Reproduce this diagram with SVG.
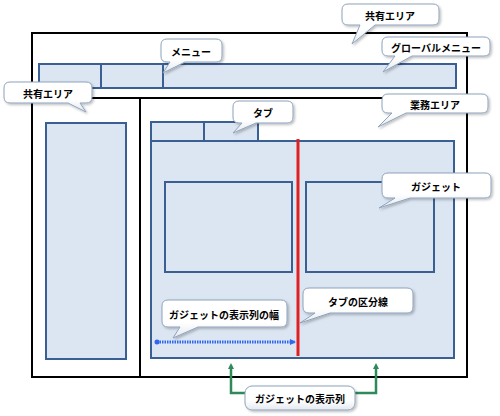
<svg xmlns="http://www.w3.org/2000/svg" width="500" height="416" viewBox="0 0 500 416">
<defs>
<linearGradient id="bg" x1="0" y1="0" x2="0" y2="1">
<stop offset="0" stop-color="#ffffff"/>
<stop offset="0.6" stop-color="#ffffff"/>
<stop offset="1" stop-color="#e4e8ee"/>
</linearGradient>
<filter id="sh" x="-10%" y="-20%" width="130%" height="160%">
<feDropShadow dx="1.5" dy="1.5" stdDeviation="1" flood-color="#000" flood-opacity="0.25"/>
</filter>
<marker id="gArr" markerWidth="6" markerHeight="6" refX="3" refY="3" orient="auto" markerUnits="userSpaceOnUse">
<path d="M0,0 L6,3 L0,6 Z" fill="#2e8b57"/>
</marker>
<marker id="bArr" markerWidth="6" markerHeight="6" refX="5" refY="3" orient="auto" markerUnits="userSpaceOnUse">
<path d="M0,0 L6,3 L0,6 Z" fill="#3366ee"/>
</marker>
<marker id="bDot" markerWidth="6" markerHeight="6" refX="3" refY="3" orient="auto" markerUnits="userSpaceOnUse">
<circle cx="3" cy="3" r="2.5" fill="#3366ee"/>
</marker>
</defs>
<style>
.frame{fill:#ffffff;stroke:#000;stroke-width:2}
.box{fill:#dce6f2;stroke:#3a5f92;stroke-width:2}
.bub{fill:url(#bg);stroke:#8ea3bd;stroke-width:1;filter:url(#sh)}
.lbl{font-family:"Noto Sans CJK JP","Noto Sans",sans-serif;font-size:10px;font-weight:bold;fill:#000;text-anchor:middle;dominant-baseline:central}
.green{fill:none;stroke:#2e8b57;stroke-width:2.5}
</style>

<g id="frame">
<rect class="frame" x="32" y="33" width="435" height="344"/>
<line x1="32" y1="98" x2="467" y2="98" stroke="#000" stroke-width="2"/>
<line x1="140" y1="98" x2="140" y2="377" stroke="#000" stroke-width="2"/>
</g>

<g id="global-menu">
<rect class="box" x="39" y="64" width="417" height="24"/>
<line x1="101" y1="64" x2="101" y2="88" stroke="#3a5f92" stroke-width="2"/>
<line x1="163" y1="64" x2="163" y2="88" stroke="#3a5f92" stroke-width="2"/>
</g>

<g id="side-area">
<rect class="box" x="46" y="123" width="80" height="236"/>
</g>

<g id="tabs">
<rect class="box" x="151" y="122" width="107" height="19"/>
<line x1="204" y1="122" x2="204" y2="141" stroke="#3a5f92" stroke-width="2"/>
</g>

<g id="content">
<rect class="box" x="151" y="141" width="303" height="217"/>
</g>

<g id="gadget-left">
<rect class="box" x="165" y="182" width="127" height="90"/>
</g>
<g id="gadget-right">
<rect class="box" x="306" y="182" width="128" height="90"/>
</g>

<g id="tab-divider">
<line x1="298" y1="139" x2="298" y2="356" stroke="#e02020" stroke-width="3"/>
</g>

<g id="connectors">
<line x1="157" y1="342" x2="295" y2="342" stroke="#3366ee" stroke-width="3" stroke-dasharray="1.5 1" marker-start="url(#bDot)" marker-end="url(#bArr)"/>
<path class="green" d="M245,393 H231 V366" marker-end="url(#gArr)"/>
<path class="green" d="M355,393 H376 V366" marker-end="url(#gArr)"/>
</g>

<g id="callout-shared-top">
<path class="bub" d="M348,4 H433 Q439,4 439,10 V19 Q439,25 433,25 H375 L352,44 L360,25 H348 Q342,25 342,19 V10 Q342,4 348,4 Z"/>
<text class="lbl" x="390" y="15">共有エリア</text>
</g>

<g id="callout-menu">
<path class="bub" d="M167,39 H216 Q222,39 222,45 V56 Q222,62 216,62 H185 L163,73 L170,62 H167 Q161,62 161,56 V45 Q161,39 167,39 Z"/>
<text class="lbl" x="191" y="51">メニュー</text>
</g>

<g id="callout-global-menu">
<path class="bub" d="M388,37 H484 Q490,37 490,43 V50 Q490,56 484,56 H412 L383,72 L395,56 H388 Q382,56 382,50 V43 Q382,37 388,37 Z"/>
<text class="lbl" x="436" y="47">グローバルメニュー</text>
</g>

<g id="callout-shared-left">
<path class="bub" d="M10,82 H86 Q92,82 92,88 V97 Q92,103 86,103 H80 L86,112 L68,103 H10 Q4,103 4,97 V88 Q4,82 10,82 Z"/>
<text class="lbl" x="48" y="93">共有エリア</text>
</g>

<g id="callout-tab">
<path class="bub" d="M239,101 H287 Q293,101 293,107 V117 Q293,123 287,123 H256 L233,133 L242,123 H239 Q233,123 233,117 V107 Q233,101 239,101 Z"/>
<text class="lbl" x="263" y="112">タブ</text>
</g>

<g id="callout-business">
<path class="bub" d="M388,94 H482 Q488,94 488,100 V107 Q488,113 482,113 H406 L378,127 L392,113 H388 Q382,113 382,107 V100 Q382,94 388,94 Z"/>
<text class="lbl" x="435" y="104">業務エリア</text>
</g>

<g id="callout-gadget">
<path class="bub" d="M388,173 H485 Q491,173 491,179 V192 Q491,198 485,198 H410 L379,208 L395,198 H388 Q382,198 382,192 V179 Q382,173 388,173 Z"/>
<text class="lbl" x="436" y="186">ガジェット</text>
</g>

<g id="callout-column-width">
<path class="bub" d="M168,300 H281 Q287,300 287,306 V321 Q287,327 281,327 H198 L173,338 L180,327 H168 Q162,327 162,321 V306 Q162,300 168,300 Z"/>
<text class="lbl" x="224" y="314">ガジェットの表示列の幅</text>
</g>

<g id="callout-tab-divider">
<path class="bub" d="M309,288 H407 Q413,288 413,294 V307 Q413,313 407,313 H330 L300,323 L315,313 H309 Q303,313 303,307 V294 Q303,288 309,288 Z"/>
<text class="lbl" x="358" y="301">タブの区分線</text>
</g>

<g id="callout-columns">
<rect class="bub" x="245" y="386" width="110" height="24" rx="7"/>
<text class="lbl" x="300" y="398">ガジェットの表示列</text>
</g>
</svg>
